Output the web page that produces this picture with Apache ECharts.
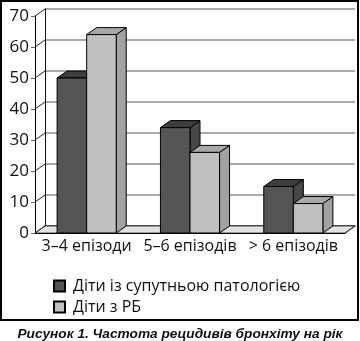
<!DOCTYPE html>
<html>
<head>
<meta charset="utf-8">
<script src="https://cdn.jsdelivr.net/npm/echarts@6/dist/echarts.min.js"></script>
<style>
html,body{margin:0;padding:0;background:#fff;}
#c{width:360px;height:341px;}
</style>
</head>
<body>
<div id="c"></div>
<script>
const categories = ['3–4 епізоди', '5–6 епізодів', '> 6 епізодів'];
const seriesNames = ['Діти із супутньою патологією', 'Діти з РБ'];
const comorbid = [50, 34, 15];
const rb = [64, 26, 9.5];
const yMin = 0, yMax = 70, yStep = 10;
const caption = 'Рисунок 1. Частота рецидивів бронхіту на рік';

const DX = 10, DY = -7;
const G = {left: 35, top: 16, width: 310, height: 217};
const FONT = 'Open Sans';

const colors = [
  {front: '#555555', top: '#3e3e3e', side: '#474747'},
  {front: '#c0c0c2', top: '#a8a8a8', side: '#a2a2a2'}
];

const ticks = [];
for (let v = yMin; v <= yMax; v += yStep) ticks.push(v);

function barRender(si) {
  return function (params, api) {
    const cat = api.value(0), val = api.value(1);
    const pTop = api.coord([cat, val]);
    const pBot = api.coord([cat, 0]);
    const band = api.size([1, 0])[0];
    const w = band * 0.286;
    const x0 = si === 0 ? pTop[0] - w : pTop[0];
    const x1 = x0 + w;
    const yT = pTop[1], y0 = pBot[1];
    const c = colors[si];
    const st = {stroke: '#000', lineWidth: 1};
    return {
      type: 'group',
      children: [
        {type: 'polygon', shape: {points: [[x1, yT], [x1 + DX, yT + DY], [x1 + DX, y0 + DY], [x1, y0]]},
          style: Object.assign({fill: c.side}, st)},
        {type: 'polygon', shape: {points: [[x0, yT], [x1, yT], [x1 + DX, yT + DY], [x0 + DX, yT + DY]]},
          style: Object.assign({fill: c.top}, st)},
        {type: 'rect', shape: {x: x0, y: yT, width: w, height: y0 - yT},
          style: Object.assign({fill: c.front}, st)}
      ]
    };
  };
}

function wallRender(params, api) {
  const cs = params.coordSys;
  const xl = cs.x, xr = cs.x + cs.width;
  const y0 = api.coord([0, 0])[1];
  const children = [];
  children.push({type: 'polygon', shape: {points: [[xl, y0], [xr, y0], [xr + DX, y0 + DY], [xl + DX, y0 + DY]]},
    style: {fill: '#e2e2e2', stroke: '#555', lineWidth: 1}});
  ticks.forEach(function (v) {
    const y = api.coord([0, v])[1];
    children.push({type: 'line', shape: {x1: xl, y1: y, x2: xl + DX, y2: y + DY},
      style: {stroke: '#222', lineWidth: 1}});
  });
  children.push({type: 'line', shape: {x1: xr, y1: y0, x2: xr + DX, y2: y0 + DY},
    style: {stroke: '#222', lineWidth: 1}});
  return {type: 'group', children: children};
}

function legendFor(i, top) {
  return {
    left: 53, top: top, padding: 0, icon: 'rect',
    itemWidth: 11, itemHeight: 11, itemGap: 0,
    data: [seriesNames[i]],
    textStyle: {color: '#111', fontFamily: FONT, fontSize: 16, padding: [0, 0, 0, 3]}
  };
}

const chart = echarts.init(document.getElementById('c'), null, {renderer: 'canvas'});
chart.setOption({
  animation: false,
  backgroundColor: '#fff',
  grid: [
    {left: G.left, top: G.top, width: G.width, height: G.height},
    {left: G.left + DX, top: G.top + DY, width: G.width, height: G.height}
  ],
  xAxis: [
    {type: 'category', gridIndex: 0, data: categories, z: 5,
      axisLine: {lineStyle: {color: '#000', width: 1}},
      axisTick: {length: 5, lineStyle: {color: '#000'}},
      axisLabel: {color: '#111', fontFamily: FONT, fontSize: 16, margin: 5, interval: 0, hideOverlap: false}},
    {type: 'category', gridIndex: 1, data: categories, position: 'top',
      axisLine: {show: true, lineStyle: {color: '#111', width: 1.5}},
      axisTick: {show: false}, axisLabel: {show: false}}
  ],
  yAxis: [
    {type: 'value', gridIndex: 0, min: yMin, max: yMax, interval: yStep, z: 5,
      axisLine: {show: true, lineStyle: {color: '#000', width: 1}},
      axisTick: {show: true, length: 4, lineStyle: {color: '#666'}},
      splitLine: {show: false},
      axisLabel: {color: '#111', fontFamily: FONT, fontSize: 17, margin: 6}},
    {type: 'value', gridIndex: 1, min: yMin, max: yMax, interval: yStep,
      axisLine: {show: true, lineStyle: {color: '#111', width: 1}},
      axisTick: {show: false}, axisLabel: {show: false},
      splitLine: {show: true, lineStyle: {color: '#aaaaaa', width: 2}}}
  ],
  legend: [legendFor(0, 278), legendFor(1, 299)],
  series: [
    {type: 'custom', name: 'wall', xAxisIndex: 0, yAxisIndex: 0, renderItem: wallRender,
      data: [[0, 0]], z: 1, silent: true},
    {type: 'custom', name: seriesNames[0], xAxisIndex: 0, yAxisIndex: 0, z: 2,
      renderItem: barRender(0),
      itemStyle: {color: colors[0].front, borderColor: '#000', borderWidth: 1},
      encode: {x: 0, y: 1},
      data: comorbid.map(function (v, i) { return [i, v]; })},
    {type: 'custom', name: seriesNames[1], xAxisIndex: 0, yAxisIndex: 0, z: 3,
      renderItem: barRender(1),
      itemStyle: {color: colors[1].front, borderColor: '#000', borderWidth: 1},
      encode: {x: 0, y: 1},
      data: rb.map(function (v, i) { return [i, v]; })}
  ],
  graphic: [
    {type: 'rect', shape: {x: 1, y: 1, width: 357, height: 319},
      style: {fill: 'none', stroke: '#000', lineWidth: 2}, z: 10},
    {type: 'text', x: 180, y: 334,
      style: {text: caption, fill: '#111', font: 'italic bold 13.7px "Liberation Sans"',
        textAlign: 'center', textVerticalAlign: 'middle'}}
  ]
});
</script>
</body>
</html>
